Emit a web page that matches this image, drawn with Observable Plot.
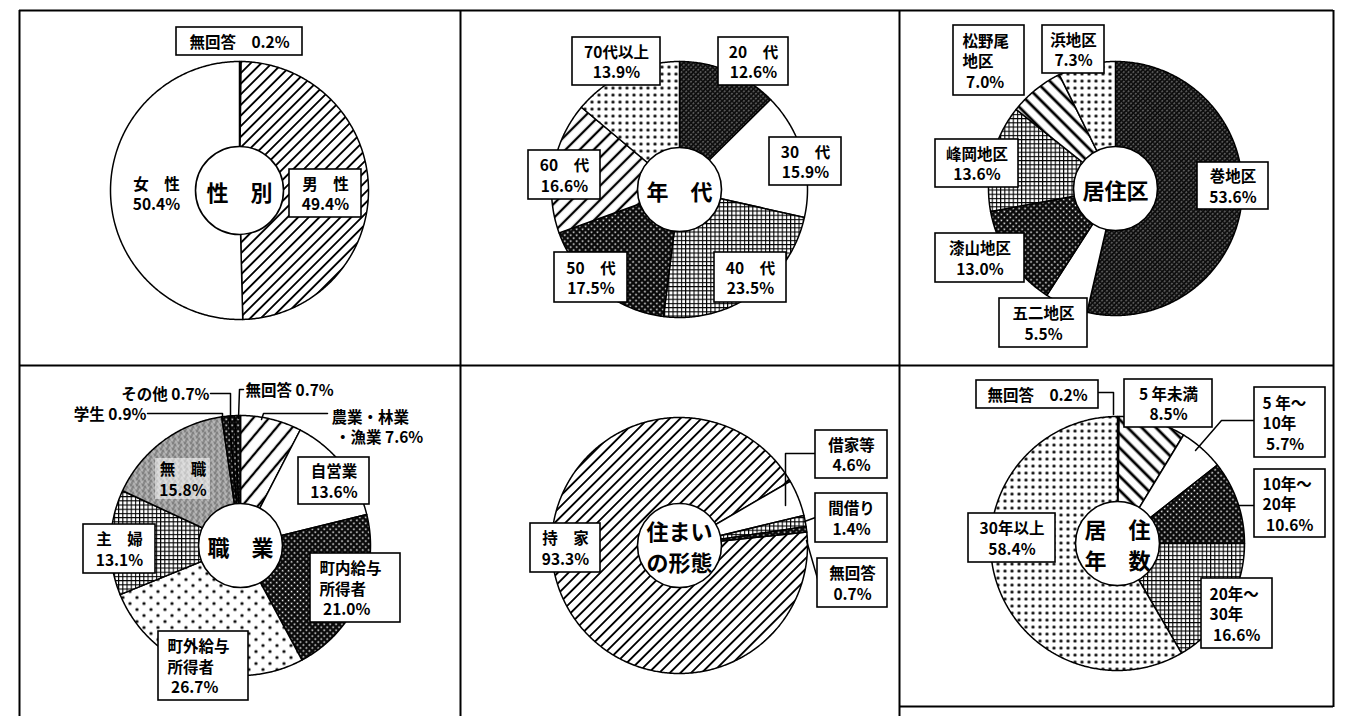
<!DOCTYPE html>
<html><head><meta charset="utf-8">
<script src="https://cdn.jsdelivr.net/npm/d3@7"></script>
<script src="https://cdn.jsdelivr.net/npm/@observablehq/plot@0.6"></script>
<style>body{margin:0;background:#fff} svg{display:block}</style>
</head><body><div id="chart"></div>
<script>
// ---------- data ----------
const genderCats = ["無回答", "男性", "女性"];
const genderVals = [0.2, 49.4, 50.4];
const ageCats = ["20代", "30代", "40代", "50代", "60代", "70代以上"];
const ageVals = [12.6, 15.9, 23.5, 17.5, 16.6, 13.9];
const areaCats = ["巻地区", "五二地区", "漆山地区", "峰岡地区", "松野尾地区", "浜地区"];
const areaVals = [53.6, 5.5, 13.0, 13.6, 7.0, 7.3];
const jobCats = ["農業・林業・漁業", "自営業", "町内給与所得者", "町外給与所得者", "主婦", "無職", "学生", "その他", "無回答"];
const jobVals = [7.6, 13.6, 21.0, 26.7, 13.1, 15.8, 0.9, 0.7, 0.7];
const houseCats = ["持家", "借家等", "間借り", "無回答"];
const houseVals = [93.3, 4.6, 1.4, 0.7];
const yearsCats = ["無回答", "5年未満", "5年～10年", "10年～20年", "20年～30年", "30年以上"];
const yearsVals = [0.2, 8.5, 5.7, 10.6, 16.6, 58.4];

// ---------- layout ----------
const W = 1349, H = 716;
const FONT = "'Noto Sans CJK JP', 'Noto Sans', sans-serif";
const pies = [
  {cats: genderCats, vals: genderVals, cx: 239, cy: 190, r: 129, r0: 44, start: 0,
   fills: ["url(#pDots)", "url(#pDiag)", "white"], title: "性　別"},
  {cats: ageCats, vals: ageVals, cx: 679, cy: 189, r: 128, r0: 42, start: 0,
   fills: ["url(#pDense)", "white", "url(#pGrid)", "url(#pCross)", "url(#pDiagW)", "url(#pDots)"], title: "年　代"},
  {cats: areaCats, vals: areaVals, cx: 1115, cy: 188, r: 127, r0: 42, start: 0,
   fills: ["url(#pDense)", "white", "url(#pCross)", "url(#pGrid)", "url(#pBack)", "url(#pDots)"], title: "居住区"},
  {cats: jobCats, vals: jobVals, cx: 240, cy: 545, r: 130, r0: 42, start: 0,
   fills: ["url(#pDiagW2)", "white", "url(#pCross)", "url(#pDotsS)", "url(#pGrid)", "url(#pGray)", "url(#pCross)", "url(#pCross)", "url(#pCross)"], title: "職　業"},
  {cats: houseCats, vals: houseVals, cx: 679, cy: 545, r: 128, r0: 42, start: 84,
   fills: ["url(#pDiag)", "white", "url(#pGrid)", "url(#pCross)"], title: "住まい\nの形態"},
  {cats: yearsCats, vals: yearsVals, cx: 1117, cy: 543, r: 127, r0: 42, start: 0,
   fills: ["black", "url(#pBack)", "white", "url(#pCross)", "url(#pGrid)", "url(#pDots)"], title: "居　住\n年　数"}
];

// labels: pie index, slice index, template ({v} = value), box or anchor point
const labels = [
  {p: 0, i: 0, t: "無回答　{v}", box: [176, 27, 302, 55]},
  {p: 0, i: 1, t: "男　性\n{v}", box: [289, 169, 361, 217]},
  {p: 0, i: 2, t: "女　性\n{v}", at: [156, 193]},
  {p: 1, i: 0, t: "20　代\n{v}", box: [718, 37, 788, 85]},
  {p: 1, i: 1, t: "30　代\n{v}", box: [769, 137, 841, 185]},
  {p: 1, i: 2, t: "40　代\n{v}", box: [714, 252, 786, 302]},
  {p: 1, i: 3, t: "50　代\n{v}", box: [554, 252, 627, 302]},
  {p: 1, i: 4, t: "60　代\n{v}", box: [528, 150, 600, 199]},
  {p: 1, i: 5, t: "70代以上\n{v}", box: [572, 37, 660, 85]},
  {p: 2, i: 0, t: "巻地区\n{v}", box: [1197, 162, 1268, 209]},
  {p: 2, i: 1, t: "五二地区\n{v}", box: [999, 298, 1087, 347]},
  {p: 2, i: 2, t: "漆山地区\n{v}", box: [935, 233, 1024, 282]},
  {p: 2, i: 3, t: "峰岡地区\n{v}", box: [935, 139, 1018, 187]},
  {p: 2, i: 4, t: "松野尾\n地区\n {v}", box: [953, 25, 1024, 95], anchor: "start", ax: 962},
  {p: 2, i: 5, t: "浜地区\n{v}", box: [1042, 25, 1104, 73]},
  {p: 3, i: 0, t: "農業・林業\n ・漁業 {v}", at: [331, 426], anchor: "start"},
  {p: 3, i: 1, t: "自営業\n{v}", box: [298, 457, 369, 504]},
  {p: 3, i: 2, t: "町内給与\n所得者\n {v}", box: [310, 553, 400, 622], anchor: "start", ax: 319},
  {p: 3, i: 3, t: "町外給与\n所得者\n {v}", box: [158, 631, 248, 700], anchor: "start", ax: 167},
  {p: 3, i: 4, t: "主　婦\n{v}", box: [83, 524, 155, 573]},
  {p: 3, i: 5, t: "無　職\n{v}", box: [155, 458, 210, 499], soft: true},
  {p: 3, i: 6, t: "学生 {v}", at: [146, 413], anchor: "end"},
  {p: 3, i: 7, t: "その他 {v}", at: [209, 393], anchor: "end"},
  {p: 3, i: 8, t: "無回答 {v}", at: [245, 389], anchor: "start"},
  {p: 4, i: 0, t: "持　家\n{v}", box: [530, 523, 600, 572]},
  {p: 4, i: 1, t: "借家等\n{v}", box: [815, 430, 887, 478]},
  {p: 4, i: 2, t: "間借り\n{v}", box: [815, 493, 887, 542]},
  {p: 4, i: 3, t: "無回答\n{v}", box: [817, 558, 887, 607]},
  {p: 5, i: 0, t: "無回答　{v}", box: [976, 380, 1098, 408]},
  {p: 5, i: 1, t: "5 年未満\n{v}", box: [1124, 379, 1212, 427]},
  {p: 5, i: 2, t: "5 年～\n10年\n {v}", box: [1254, 387, 1325, 457], anchor: "start", ax: 1262},
  {p: 5, i: 3, t: "10年～\n20年\n {v}", box: [1254, 469, 1325, 537], anchor: "start", ax: 1262},
  {p: 5, i: 4, t: "20年～\n30年\n {v}", box: [1201, 578, 1272, 648], anchor: "start", ax: 1209},
  {p: 5, i: 5, t: "30年以上\n{v}", box: [968, 513, 1055, 562]}
];

// leader lines (pixel layout)
const leaders = [
  [[210, 393], [230, 393], [230, 420]],
  [[147, 413], [222, 413], [222, 422]],
  [[243, 389], [239, 389], [238, 418]],
  [[327, 413], [263, 413], [261, 419]],
  [[815, 453], [785, 453], [785, 505]],
  [[815, 517], [804, 521]],
  [[817, 578], [806, 540]],
  [[1098, 392], [1113, 392], [1113, 414]],
  [[1254, 420], [1221, 420], [1195, 450]],
  [[1254, 505], [1239, 505]]
];

// panel frame lines
const vRules = [{x: 19, y1: 10, y2: 716}, {x: 460, y1: 10, y2: 716}, {x: 899, y1: 10, y2: 716}, {x: 1333, y1: 10, y2: 707}];
const hRules = [{y: 10, x1: 19, x2: 1333}, {y: 365, x1: 19, x2: 1333}, {y: 706, x1: 899, x2: 1333}];

// ---------- build ----------
const wedgePts = [];
pies.forEach((p, pi) => {
  const a0 = p.start * Math.PI / 180;
  const arcs = d3.pie().sort(null).startAngle(a0).endAngle(a0 + 2 * Math.PI)(p.vals);
  arcs.forEach((a, i) => {
    const key = pi + "-" + i, fill = p.fills[i];
    wedgePts.push({key, fill, x: p.cx, y: p.cy});
    const n = Math.max(2, Math.ceil((a.endAngle - a.startAngle) / 0.01));
    for (let k = 0; k <= n; k++) {
      const t = a.startAngle + (a.endAngle - a.startAngle) * k / n;
      wedgePts.push({key, fill, x: p.cx + p.r * Math.sin(t), y: p.cy - p.r * Math.cos(t)});
    }
  });
});

const fmt = (v) => v.toFixed(1) + "%";
const lab = labels.map((l) => {
  const text = l.t.replace("{v}", fmt(pies[l.p].vals[l.i]));
  let x, y;
  if (l.box) { x = (l.box[0] + l.box[2]) / 2; y = (l.box[1] + l.box[3]) / 2; }
  else { x = l.at[0]; y = l.at[1]; }
  if (l.ax != null) x = l.ax;
  return {text, x, y, anchor: l.anchor || "middle", box: l.box, soft: l.soft};
});
const boxes = lab.filter((d) => d.box && !d.soft).map((d) => ({x1: d.box[0], y1: d.box[1], x2: d.box[2], y2: d.box[3]}));
const softBoxes = lab.filter((d) => d.soft).map((d) => ({x1: d.box[0], y1: d.box[1], x2: d.box[2], y2: d.box[3]}));
const leaderPts = leaders.flatMap((pts, k) => pts.map(([x, y]) => ({k, x, y})));

const textOpts = {x: "x", y: "y", text: "text", fontSize: 15.5, fontWeight: "bold", fontFamily: FONT, fill: "black", lineHeight: 1.32};

const svg = Plot.plot({
  width: W, height: H, margin: 0,
  x: {domain: [0, W], range: [0, W], axis: null},
  y: {domain: [0, H], range: [0, H], axis: null},
  color: {type: "identity"},
  style: {background: "white", fontFamily: FONT},
  marks: [
    Plot.line(wedgePts, {x: "x", y: "y", z: "key", fill: "fill", stroke: "black", strokeWidth: 1.5, curve: "linear-closed"}),
    ...pies.map((p) => Plot.dot([p], {x: "cx", y: "cy", r: p.r0, fill: "white", stroke: "black", strokeWidth: 1.6})),
    Plot.line(leaderPts, {x: "x", y: "y", z: "k", stroke: "black", strokeWidth: 1.5}),
    Plot.rect(softBoxes, {x1: "x1", x2: "x2", y1: "y1", y2: "y2", fill: "white", fillOpacity: 0.55}),
    Plot.rect(boxes, {x1: "x1", x2: "x2", y1: "y1", y2: "y2", fill: "white", stroke: "black", strokeWidth: 1.6}),
    Plot.text(lab.filter((d) => d.anchor === "middle"), {...textOpts, textAnchor: "middle"}),
    Plot.text(lab.filter((d) => d.anchor === "start"), {...textOpts, textAnchor: "start"}),
    Plot.text(lab.filter((d) => d.anchor === "end"), {...textOpts, textAnchor: "end"}),
    Plot.text(pies, {x: "cx", y: "cy", text: "title", fontSize: 22, fontWeight: "bold", fontFamily: FONT, fill: "black", lineHeight: 1.42, textAnchor: "middle"}),
    Plot.ruleX(vRules, {x: "x", y1: "y1", y2: "y2", stroke: "black", strokeWidth: 2}),
    Plot.ruleY(hRules, {y: "y", x1: "x1", x2: "x2", stroke: "black", strokeWidth: 2})
  ]
});

const defs = `
<pattern id="pDiag" patternUnits="userSpaceOnUse" width="7.5" height="7.5" patternTransform="rotate(45)"><rect width="7.5" height="7.5" fill="white"/><line x1="3.75" y1="0" x2="3.75" y2="7.5" stroke="black" stroke-width="1.9"/></pattern>
<pattern id="pDiagW" patternUnits="userSpaceOnUse" width="10" height="10" patternTransform="rotate(45)"><rect width="10" height="10" fill="white"/><line x1="5" y1="0" x2="5" y2="10" stroke="black" stroke-width="2.3"/></pattern>
<pattern id="pDiagW2" patternUnits="userSpaceOnUse" width="12" height="12" patternTransform="rotate(40)"><rect width="12" height="12" fill="white"/><line x1="6" y1="0" x2="6" y2="12" stroke="black" stroke-width="2.3"/></pattern>
<pattern id="pBack" patternUnits="userSpaceOnUse" width="10" height="10" patternTransform="rotate(-45)"><rect width="10" height="10" fill="white"/><line x1="5" y1="0" x2="5" y2="10" stroke="black" stroke-width="2.8"/></pattern>
<pattern id="pDense" patternUnits="userSpaceOnUse" width="3.4" height="3.4" patternTransform="rotate(45)"><rect width="3.4" height="3.4" fill="#0e0e0e"/><line x1="1.7" y1="0" x2="1.7" y2="2" stroke="#ddd" stroke-width="0.6"/></pattern>
<pattern id="pGrid" patternUnits="userSpaceOnUse" width="4.2" height="4.2"><rect width="4.2" height="4.2" fill="black"/><rect x="1.1" y="1.1" width="3.1" height="3.1" fill="white"/></pattern>
<pattern id="pCross" patternUnits="userSpaceOnUse" width="4.2" height="4.2" patternTransform="rotate(45)"><rect width="4.2" height="4.2" fill="#0a0a0a"/><rect x="1.4" y="1.4" width="1.5" height="1.5" fill="white"/></pattern>
<pattern id="pDots" patternUnits="userSpaceOnUse" width="7" height="7"><rect width="7" height="7" fill="white"/><circle cx="3.5" cy="3.5" r="1.6" fill="black"/></pattern>
<pattern id="pDotsS" patternUnits="userSpaceOnUse" width="14" height="12"><rect width="14" height="12" fill="white"/><circle cx="3.5" cy="3" r="1.6" fill="black"/><circle cx="10.5" cy="9" r="1.6" fill="black"/></pattern>
<pattern id="pGray" patternUnits="userSpaceOnUse" width="6" height="6"><rect width="6" height="6" fill="#9c9c9c"/><rect x="0" y="0" width="1" height="1" fill="#333"/><rect x="3" y="1" width="1" height="1" fill="#fff"/><rect x="1" y="3" width="1" height="1" fill="#eee"/><rect x="4" y="4" width="1" height="1" fill="#333"/><rect x="5" y="2" width="1" height="1" fill="#555"/><rect x="2" y="5" width="1" height="1" fill="#ddd"/></pattern>`;
const defsEl = document.createElementNS("http://www.w3.org/2000/svg", "defs");
defsEl.innerHTML = defs;
svg.insertBefore(defsEl, svg.firstChild);
document.getElementById("chart").appendChild(svg);
</script>
</body></html>
